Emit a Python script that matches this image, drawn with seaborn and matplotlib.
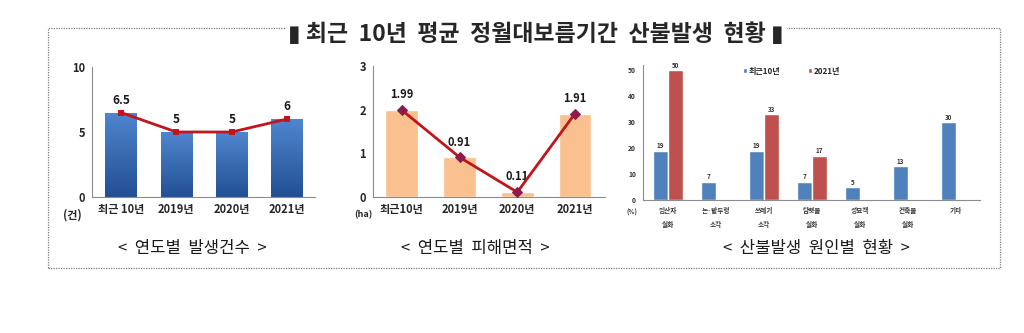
import numpy as np
import pandas as pd
import matplotlib
matplotlib.use("Agg")
import matplotlib.pyplot as plt
import seaborn as sns
from matplotlib.patches import Rectangle

# ---------------- data ----------------
year_labels = ["최근 10년", "2019년", "2020년", "2021년"]
year_labels2 = ["최근10년", "2019년", "2020년", "2021년"]
fire_counts = [6.5, 5, 5, 6]
damage_area = [1.99, 0.91, 0.11, 1.91]
count_labels = ["6.5", "5", "5", "6"]
area_labels = ["1.99", "0.91", "0.11", "1.91"]

causes = ["입산자\n실화", "논·밭두렁\n소각", "쓰레기\n소각", "담뱃불\n실화",
          "성묘객\n실화", "건축물\n실화", "기타"]
recent10 = [19, 7, 19, 7, 5, 13, 30]
y2021 = [50, np.nan, 33, 17, np.nan, np.nan, np.nan]
series_names = ["최근10년", "2021년"]

title = "▮ 최근  10년  평균  정월대보름기간  산불발생  현황 ▮"
captions = ["<  연도별  발생건수  >", "<  연도별  피해면적  >", "<  산불발생  원인별  현황  >"]

# ---------------- style ----------------
sns.set_style("white")
plt.rcParams["font.family"] = ["Noto Sans CJK KR", "DejaVu Sans"]
plt.rcParams["axes.edgecolor"] = "#8c8c8c"

fig = plt.figure(figsize=(10.24, 3.33), dpi=100)
W, H = 1024, 333

def px_axes(left, top, right, bottom):
    return fig.add_axes([left / W, 1 - bottom / H, (right - left) / W, (bottom - top) / H])

def style_axes(ax, n):
    sns.despine(ax=ax)
    ax.spines["left"].set_color("#8c8c8c")
    ax.spines["bottom"].set_color("#8c8c8c")
    ax.tick_params(axis="y", length=3, color="#8c8c8c", pad=2)
    ax.tick_params(axis="x", length=0, pad=4)
    ax.set_xticks(np.arange(n + 1) - 0.5, minor=True)
    ax.tick_params(axis="x", which="minor", length=3, color="#8c8c8c")
    ax.set_xlabel("")
    ax.set_ylabel("")
    ax.grid(False)

# border
fig.patches.append(Rectangle((48 / W, 1 - 268 / H), 952 / W, 240 / H,
                             transform=fig.transFigure, fill=False,
                             linestyle=(0, (1, 1)), edgecolor="#7f7f7f", linewidth=0.9))

# ---------------- panel 1 ----------------
ax1 = px_axes(92, 67, 315, 197)
sns.barplot(x=year_labels, y=fire_counts, color="#3b6db5", saturation=1, width=0.57, ax=ax1)
grad = np.linspace(0, 1, 256).reshape(-1, 1)
cmap_blue = matplotlib.colors.LinearSegmentedColormap.from_list("b", ["#4f86cf", "#234f92"])
for p in list(ax1.patches):
    x0, y0 = p.get_x(), p.get_y()
    im = ax1.imshow(grad, extent=[x0, x0 + p.get_width(), y0, y0 + p.get_height()],
                    cmap=cmap_blue, aspect="auto", origin="upper", zorder=p.get_zorder())
    im.set_clip_path(p)
sns.lineplot(x=year_labels, y=fire_counts, sort=False, color="#c0151b", marker="s",
             markersize=5, markeredgewidth=0, linewidth=2, ax=ax1, zorder=5)
for i, (v, t) in enumerate(zip(fire_counts, count_labels)):
    ax1.text(i, v + 0.45, t, ha="center", va="bottom", fontsize=8.5, fontweight="bold", color="#1a1a1a")
ax1.set_ylim(0, 10)
ax1.set_yticks([0, 5, 10])
ax1.set_xlim(-0.52, 3.33)
style_axes(ax1, 4)
for lab in ax1.get_xticklabels() + ax1.get_yticklabels():
    lab.set_fontsize(8)
    lab.set_fontweight("bold")
fig.text(72 / W, 1 - 215 / H, "(건)", fontsize=8, fontweight="bold", ha="center", va="center")

# ---------------- panel 2 ----------------
ax2 = px_axes(373, 66, 605, 197)
sns.barplot(x=year_labels2, y=damage_area, color="#fac08f", saturation=1, width=0.57, ax=ax2)
sns.lineplot(x=year_labels2, y=damage_area, sort=False, color="#c0151b", marker="D",
             markersize=5, markerfacecolor="#8b1c4b", markeredgecolor="#8b1c4b",
             linewidth=2, ax=ax2, zorder=5)
for i, (v, t) in enumerate(zip(damage_area, area_labels)):
    ax2.text(i, v + 0.2, t, ha="center", va="bottom", fontsize=8, fontweight="bold", color="#1a1a1a")
ax2.set_ylim(0, 3)
ax2.set_yticks([0, 1, 2, 3])
ax2.set_xlim(-0.5, 3.52)
style_axes(ax2, 4)
for lab in ax2.get_xticklabels() + ax2.get_yticklabels():
    lab.set_fontsize(8)
    lab.set_fontweight("bold")
fig.text(363 / W, 1 - 215 / H, "(ha)", fontsize=6.5, fontweight="bold", ha="center", va="center")

# ---------------- panel 3 ----------------
ax3 = px_axes(643, 64.8, 980, 200)
df = pd.DataFrame({
    "cause": causes * 2,
    "period": [series_names[0]] * len(causes) + [series_names[1]] * len(causes),
    "pct": recent10 + y2021,
})
sns.barplot(data=df, x="cause", y="pct", hue="period", order=causes,
            palette=["#4f81bd", "#c0504d"], saturation=1, width=0.63, ax=ax3)
for cont in ax3.containers:
    labs = ["" if np.isnan(v) else f"{v:g}" for v in cont.datavalues]
    ax3.bar_label(cont, labels=labs, fontsize=4.5, fontweight="bold", padding=1, color="#333333")
ax3.set_ylim(0, 52)
ax3.set_yticks([0, 10, 20, 30, 40, 50])
ax3.set_xlim(-0.52, 6.5)
style_axes(ax3, 7)
for lab in ax3.get_xticklabels() + ax3.get_yticklabels():
    lab.set_fontsize(4.8)
    lab.set_fontweight("bold")
    lab.set_color("#333333")
for lab in ax3.get_xticklabels():
    lab.set_linespacing(2.2)
ax3.tick_params(axis="x", pad=5)
leg = ax3.legend(loc="upper center", bbox_to_anchor=(0.44, 1.04), ncol=2, frameon=False,
                 fontsize=5.8, handlelength=0.5, handleheight=0.5, handletextpad=0.2,
                 columnspacing=3.5)
for t in leg.get_texts():
    t.set_fontweight("bold")
fig.text(632 / W, 1 - 212 / H, "(%)", fontsize=4.5, fontweight="bold", ha="center", va="center",
         color="#333333")

# ---------------- titles ----------------
fig.text(536 / W, 1 - 34 / H, title, fontsize=16.5, fontweight="bold", ha="center", va="center",
         bbox=dict(facecolor="white", edgecolor="none", pad=2))
for cx, cap in zip([192, 475, 816], captions):
    fig.text(cx / W, 1 - 248 / H, cap, fontsize=12, ha="center", va="center", color="#1a1a1a")

fig.savefig("out.png", dpi=100, facecolor="white")
